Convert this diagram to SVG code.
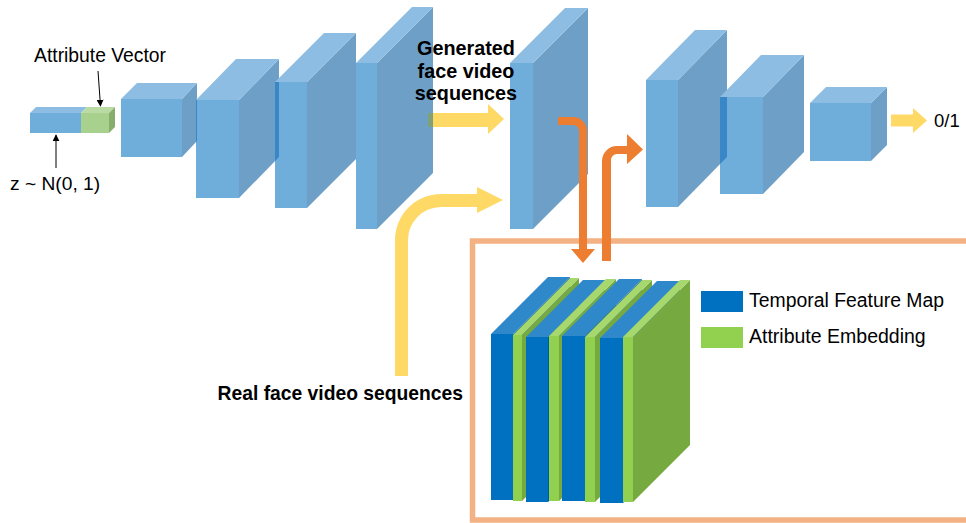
<svg xmlns="http://www.w3.org/2000/svg" width="966" height="523" viewBox="0 0 966 523">
<defs>
<style>
.f{fill:#6FADDB}.t{fill:#8DBDE2}.r{fill:#6E9FC6}.ov{fill:#3A87C7}
.yl{fill:#FFD966}.or{fill:#ED7D31}
.bf{fill:#0070C0}.bt{fill:#2F88CA}.br{fill:#005A9E}
.gf{fill:#92D050}.gt{fill:#A6D86E}.gr{fill:#76A93F}
.txt{font-family:"Liberation Sans",Arial,sans-serif;fill:#000}
.bold{font-weight:bold}
.thin{stroke:#000;stroke-width:1;fill:none}
</style>
<marker id="ah" viewBox="0 0 10 10" refX="9" refY="5" markerWidth="7" markerHeight="7" orient="auto" markerUnits="userSpaceOnUse">
<path d="M0,0 L10,5 L0,10 z" fill="#000"/>
</marker>
</defs>
<rect width="966" height="523" fill="#fff"/>

<!-- attention box -->
<g id="box">
<rect x="472.5" y="241" width="520" height="279" fill="none" stroke="#F4B183" stroke-width="5.5"/>
</g>

<!-- input vector -->
<g id="input-vector">
<rect x="30" y="113" width="51" height="20" class="f"/>
<polygon points="30,113 36,107 87,107 81,113" class="t"/>
<rect x="81" y="113" width="28" height="20" fill="#A9D18E"/>
<polygon points="81,113 87,107 115,107 109,113" fill="#BADBA3"/>
<polygon points="109,113 115,107 115,127 109,133" fill="#88AE6E"/>
</g>

<!-- generator blocks -->
<g id="gen1">
<polygon points="182,99 197,83 197,141 182,157" class="r"/>
<polygon points="121,99 137,83 197,83 182,99" class="t"/>
<rect x="121" y="99" width="61" height="58" class="f"/>
</g>
<g id="gen2">
<polygon points="239,100 279,59 279,157 239,198" class="r"/>
<polygon points="196,100 236,59 279,59 239,100" class="t"/>
<rect x="196" y="100" width="43" height="98" class="f"/>
<polygon points="196,100 197,100 197,141 196,142" class="ov"/>
</g>
<g id="gen3">
<polygon points="307,82 356,33 356,159 307,208" class="r"/>
<polygon points="275,82 324,33 356,33 307,82" class="t"/>
<rect x="275" y="82" width="32" height="126" class="f"/>
<polygon points="275,82 279,82 279,157 275,161" class="ov"/>
</g>
<g id="gen4">
<polygon points="377,63 433,7 433,173 377,229" class="r"/>
<polygon points="356,63 412,7 433,7 377,63" class="t"/>
<rect x="356" y="63" width="21" height="166" class="f"/>
</g>

<!-- generated frames -->
<g id="generated">
<polygon points="533,63 588,8 588,174 533,229" class="r"/>
<polygon points="510,63 565,8 588,8 533,63" class="t"/>
<rect x="510" y="63" width="23" height="166" class="f"/>
</g>

<!-- discriminator blocks -->
<g id="dis1">
<polygon points="678,80 727,30 727,157 678,207" class="r"/>
<polygon points="646,80 695,30 727,30 678,80" class="t"/>
<rect x="646" y="80" width="32" height="127" class="f"/>
</g>
<g id="dis2">
<polygon points="763,97 804,55 804,152 763,194" class="r"/>
<polygon points="720,97 761,55 804,55 763,97" class="t"/>
<rect x="720" y="97" width="43" height="97" class="f"/>
<polygon points="720,97 727,97 727,157 720,164" class="ov"/>
</g>
<g id="dis3">
<polygon points="871,103 887,87 887,145 871,161" class="r"/>
<polygon points="810,103 826,87 887,87 871,103" class="t"/>
<rect x="810" y="103" width="61" height="58" class="f"/>
</g>

<!-- feature stack -->
<g id="feature-stack">
<polygon points="513,334 570,277 570,443 513,500" class="br"/>
<polygon points="491,334 548,277 570,277 513,334" class="bt"/>
<rect x="491" y="334" width="22" height="166" class="bf"/>

<polygon points="522,335 579,278 579,444 522,501" class="gr"/>
<polygon points="513,335 570,278 579,278 522,335" class="gt"/>
<rect x="513" y="335" width="9" height="166" class="gf"/>

<polygon points="548,337 605,280 605,445 548,502" class="br"/>
<polygon points="526,337 583,280 605,280 548,337" class="bt"/>
<rect x="526" y="337" width="22" height="165" class="bf"/>

<polygon points="559,336 616,279 616,444 559,501" class="gr"/>
<polygon points="549,336 606,279 616,279 559,336" class="gt"/>
<rect x="549" y="336" width="10" height="165" class="gf"/>

<polygon points="585,336 642,279 642,444 585,501" class="br"/>
<polygon points="562,336 619,279 642,279 585,336" class="bt"/>
<rect x="562" y="336" width="23" height="165" class="bf"/>

<polygon points="595,337 652,280 652,445 595,502" class="gr"/>
<polygon points="585,337 642,280 652,280 595,337" class="gt"/>
<rect x="585" y="337" width="10" height="165" class="gf"/>

<polygon points="623,338 680,281 680,446 623,503" class="br"/>
<polygon points="600,338 657,281 680,281 623,338" class="bt"/>
<rect x="600" y="338" width="23" height="165" class="bf"/>

<polygon points="633,337 690,280 690,445 633,502" class="gr"/>
<polygon points="623,337 680,280 690,280 633,337" class="gt"/>
<rect x="623" y="337" width="10" height="165" class="gf"/>
</g>

<!-- legend -->
<g id="legend">
<rect x="701" y="291" width="42" height="21" class="bf"/>
<text x="749" y="307" class="txt" font-size="19.4">Temporal Feature Map</text>
<rect x="701" y="327" width="42" height="21" class="gf"/>
<text x="749" y="343" class="txt" font-size="19.5">Attribute Embedding</text>
</g>

<!-- connectors -->
<g id="connectors">
<line x1="98" y1="71" x2="100.5" y2="106" class="thin" marker-end="url(#ah)"/>
<line x1="56" y1="168" x2="56" y2="135" class="thin" marker-end="url(#ah)"/>
<polygon points="428,113 488,113 488,104 504,119 488,134 488,127 428,127" class="yl"/>
<rect x="428" y="113" width="5" height="14" fill="#80A07A"/>
<path d="M395,376 L395,240 A46,46 0 0 1 441,194 L477,194 L477,187 L503,200 L477,213 L477,207 L441,207 A33,33 0 0 0 408,240 L408,376 Z" class="yl"/>
<polygon points="891,114.5 913,114.5 913,108 927,120.5 913,133 913,126.5 891,126.5" class="yl"/>
<path d="M558,117 L573,117 A14,14 0 0 1 587,131 L587,249 L595,249 L583,263 L571,249 L579,249 L579,131 A6,6 0 0 0 573,125 L558,125 Z" class="or"/>
<path d="M602,261 L602,161 A15,15 0 0 1 617,146 L627,146 L627,134 L643,149.5 L627,164 L627,154 L617,154 A6,6 0 0 0 611,160 L611,261 Z" class="or"/>
</g>

<!-- labels -->
<g id="labels">
<text x="100" y="62" class="txt" font-size="19.3" text-anchor="middle">Attribute Vector</text>
<text x="10" y="190" class="txt" font-size="19.2">z ~ N(0, 1)</text>
<text class="txt bold" font-size="19.8" text-anchor="middle"><tspan x="466" y="55">Generated</tspan><tspan x="466" y="78">face video</tspan><tspan x="466" y="100">sequences</tspan></text>
<text x="463" y="400" class="txt bold" font-size="19.3" text-anchor="end">Real face video sequences</text>
<text x="934" y="127" class="txt" font-size="18.5">0/1</text>
</g>
</svg>
